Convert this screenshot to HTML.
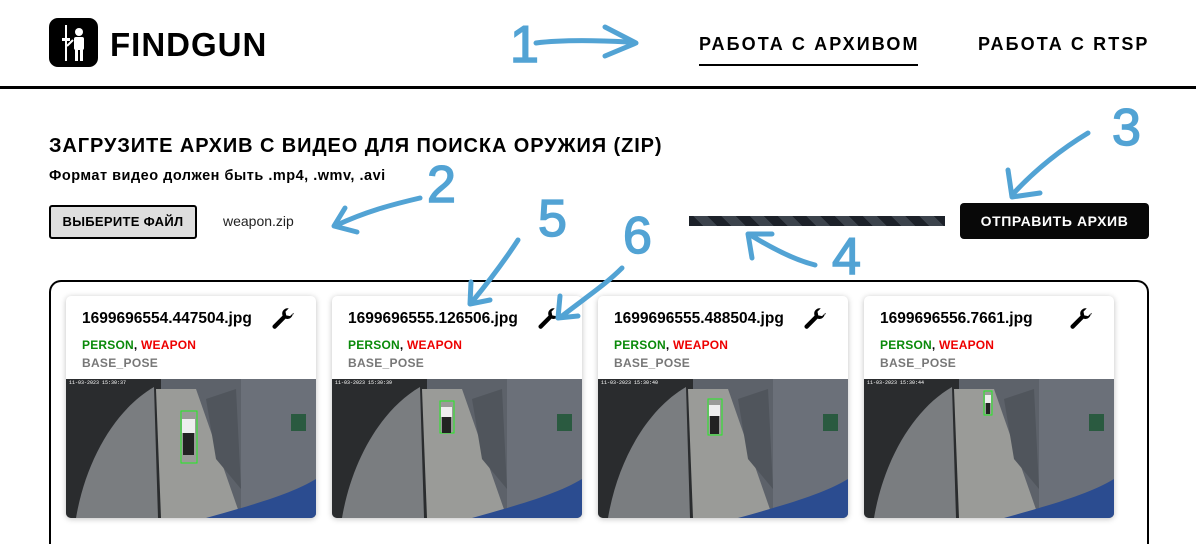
<!DOCTYPE html>
<html><head><meta charset="utf-8">
<style>
*{margin:0;padding:0;box-sizing:border-box}
html,body{width:1196px;height:544px;overflow:hidden}
body{background:#fff;position:relative;font-family:"Liberation Sans",sans-serif;color:#000}
.abs{position:absolute}
.logo{left:49px;top:18px;width:49px;height:49px;background:#000;border-radius:9px}
.brand{left:110px;top:26px;font-size:33px;font-weight:bold;letter-spacing:1px}
.nav{font-size:18px;font-weight:bold;letter-spacing:2.1px}
.hr{left:0;top:86px;width:1196px;height:3px;background:#000}
h1{position:absolute;left:49px;top:135px;font-size:20px;font-weight:bold;letter-spacing:.9px;white-space:nowrap}
.sub{left:49px;top:168px;font-size:14.5px;font-weight:bold;letter-spacing:.5px}
.btn1{left:49px;top:205px;width:148px;height:34px;background:#dedede;border:2px solid #000;border-radius:3px;font-size:13px;font-weight:bold;text-align:center;line-height:30px;letter-spacing:.3px}
.fname{left:223px;top:213px;font-size:14px;color:#222}
.bar{left:689px;top:216px;width:256px;height:10px;background:repeating-linear-gradient(45deg,#1c2129 0 10px,#3c434c 10px 20px)}
.btn2{left:960px;top:203px;width:189px;height:36px;background:#080808;border-radius:4px;color:#fff;font-size:14px;font-weight:bold;text-align:center;line-height:36px;letter-spacing:.6px}
.box{left:49px;top:280px;width:1100px;height:264px;border:2px solid #000;border-bottom:none;border-radius:12px 12px 0 0}
.card{position:absolute;top:296px;width:250px;height:222px;background:#fff;border-radius:5px;box-shadow:0 1px 6px rgba(0,0,0,.25);overflow:hidden}
.card .t{position:absolute;left:16px;top:14px;font-size:15.5px;font-weight:bold;white-space:nowrap}
.card .w{position:absolute;left:204px;top:10px}
.card .tags{position:absolute;left:16px;top:42px;font-size:12px;font-weight:bold;letter-spacing:.2px}
.card .p{position:absolute;left:16px;top:60px;font-size:12px;font-weight:bold;color:#777;letter-spacing:.3px}
.card svg.img{position:absolute;left:0;top:83px}
</style></head><body>
<svg width="0" height="0" style="position:absolute"><defs>
<symbol id="wr" viewBox="0 0 24 24"><path d="M21 7a5 5 0 0 1-6.6 4.7L5.5 20.6a2 2 0 0 1-2.8-2.8l8.9-8.9A5 5 0 0 1 17.3 2.2l-3 3 .7 3.5 3.5.7 3-3c.3.5.5 1 .5 1.6z" fill="#000"/></symbol>
<symbol id="im" viewBox="0 0 250 139"><rect width="250" height="139" fill="#5d626a"/><polygon points="0,0 95,0 95,139 0,139" fill="#2a2c2e"/><path d="M10,139 C20,80 50,30 88,8 L92,139Z" fill="#7a7d80"/><polygon points="90,10 130,10 175,139 95,139" fill="#9a9b98"/><polygon points="175,0 250,0 250,139 175,139" fill="#6b7079"/><polygon points="140,20 170,10 175,110 150,80" fill="#50555c"/><path d="M140,139 C190,125 225,115 250,100 L250,139Z" fill="#2b4c90"/><rect x="225" y="35" width="15" height="17" fill="#2a5a40"/></symbol>
</defs></svg>
<div class="abs logo">
<svg width="49" height="49"><g fill="#fff"><circle cx="30" cy="14" r="4"/><rect x="25" y="19" width="10" height="13" rx="2"/><rect x="26" y="30" width="3" height="13"/><rect x="31" y="30" width="3" height="13"/><rect x="16" y="7" width="2" height="36"/><rect x="13" y="20" width="8" height="3"/><line x1="24" y1="22" x2="18" y2="28" stroke="#fff" stroke-width="2"/></g></svg>
</div>
<div class="abs brand">FINDGUN</div>
<div class="abs nav" style="left:699px;top:34px">РАБОТА С АРХИВОМ</div>
<div class="abs" style="left:699px;top:64px;width:219px;height:2px;background:#000"></div>
<div class="abs nav" style="left:978px;top:34px">РАБОТА С RTSP</div>
<div class="abs hr"></div>
<h1>ЗАГРУЗИТЕ АРХИВ С ВИДЕО ДЛЯ ПОИСКА ОРУЖИЯ (ZIP)</h1>
<div class="abs sub">Формат видео должен быть .mp4, .wmv, .avi</div>
<div class="abs btn1">ВЫБЕРИТЕ ФАЙЛ</div>
<div class="abs fname">weapon.zip</div>
<div class="abs bar"></div>
<div class="abs btn2">ОТПРАВИТЬ АРХИВ</div>
<div class="abs box"></div>

<div class="card" style="left:66px"><div class="t">1699696554.447504.jpg</div><svg class="w" width="26" height="26"><use href="#wr"/></svg><div class="tags"><span style="color:#0a8a0a">PERSON</span>, <span style="color:#e00">WEAPON</span></div><div class="p">BASE_POSE</div>
<svg class="img" width="250" height="139"><use href="#im"/><rect x="115" y="32" width="16" height="52" fill="none" stroke="#2e2"/><rect x="116" y="40" width="13" height="14" fill="#eee"/><rect x="117" y="54" width="11" height="22" fill="#222"/><text x="3" y="5" font-size="5" fill="#fff" font-family="Liberation Mono">11-03-2023 15:30:37</text></svg></div>

<div class="card" style="left:332px"><div class="t">1699696555.126506.jpg</div><svg class="w" width="26" height="26"><use href="#wr"/></svg><div class="tags"><span style="color:#0a8a0a">PERSON</span>, <span style="color:#e00">WEAPON</span></div><div class="p">BASE_POSE</div>
<svg class="img" width="250" height="139"><use href="#im"/><rect x="108" y="22" width="14" height="32" fill="none" stroke="#2e2"/><rect x="109" y="28" width="11" height="10" fill="#eee"/><rect x="110" y="38" width="9" height="16" fill="#222"/><text x="3" y="5" font-size="5" fill="#fff" font-family="Liberation Mono">11-03-2023 15:30:39</text></svg></div>

<div class="card" style="left:598px"><div class="t">1699696555.488504.jpg</div><svg class="w" width="26" height="26"><use href="#wr"/></svg><div class="tags"><span style="color:#0a8a0a">PERSON</span>, <span style="color:#e00">WEAPON</span></div><div class="p">BASE_POSE</div>
<svg class="img" width="250" height="139"><use href="#im"/><rect x="110" y="20" width="14" height="36" fill="none" stroke="#2e2"/><rect x="111" y="26" width="11" height="11" fill="#eee"/><rect x="112" y="37" width="9" height="18" fill="#222"/><text x="3" y="5" font-size="5" fill="#fff" font-family="Liberation Mono">11-03-2023 15:30:40</text></svg></div>

<div class="card" style="left:864px"><div class="t">1699696556.7661.jpg</div><svg class="w" width="26" height="26"><use href="#wr"/></svg><div class="tags"><span style="color:#0a8a0a">PERSON</span>, <span style="color:#e00">WEAPON</span></div><div class="p">BASE_POSE</div>
<svg class="img" width="250" height="139"><use href="#im"/><rect x="120" y="12" width="8" height="24" fill="none" stroke="#2e2"/><rect x="121" y="16" width="6" height="8" fill="#eee"/><rect x="122" y="24" width="4" height="11" fill="#222"/><text x="3" y="5" font-size="5" fill="#fff" font-family="Liberation Mono">11-03-2023 15:30:44</text></svg></div>

<svg class="abs" style="left:0;top:0" width="1196" height="544">
<g fill="none" stroke="#52a3d4" stroke-width="5" stroke-linecap="round" stroke-linejoin="round">
<path d="M536,43 C560,40 590,40 628,42"/><path d="M605,27 L636,43 L605,56"/>
<path d="M1088,133 C1060,150 1035,170 1012,195"/><path d="M1008,170 L1012,197 L1040,193"/>
<path d="M420,198 C390,205 365,212 337,225"/><path d="M345,208 L334,226 L357,232"/>
<path d="M815,265 C795,260 775,250 752,236"/><path d="M752,258 L748,234 L772,234"/>
<path d="M518,240 C505,260 490,280 472,302"/><path d="M471,282 L470,304 L490,300"/>
<path d="M622,268 C605,285 585,298 562,316"/><path d="M560,296 L558,318 L578,316"/>
</g>
<g fill="#52a3d4" font-family="Liberation Sans,sans-serif" font-size="52" stroke="#52a3d4" stroke-width="1.5">
<text x="510" y="62">1</text>
<text x="1112" y="145">3</text>
<text x="427" y="202">2</text>
<text x="538" y="236">5</text>
<text x="623" y="253">6</text>
<text x="832" y="274">4</text>
</g>
</svg>
</body></html>
